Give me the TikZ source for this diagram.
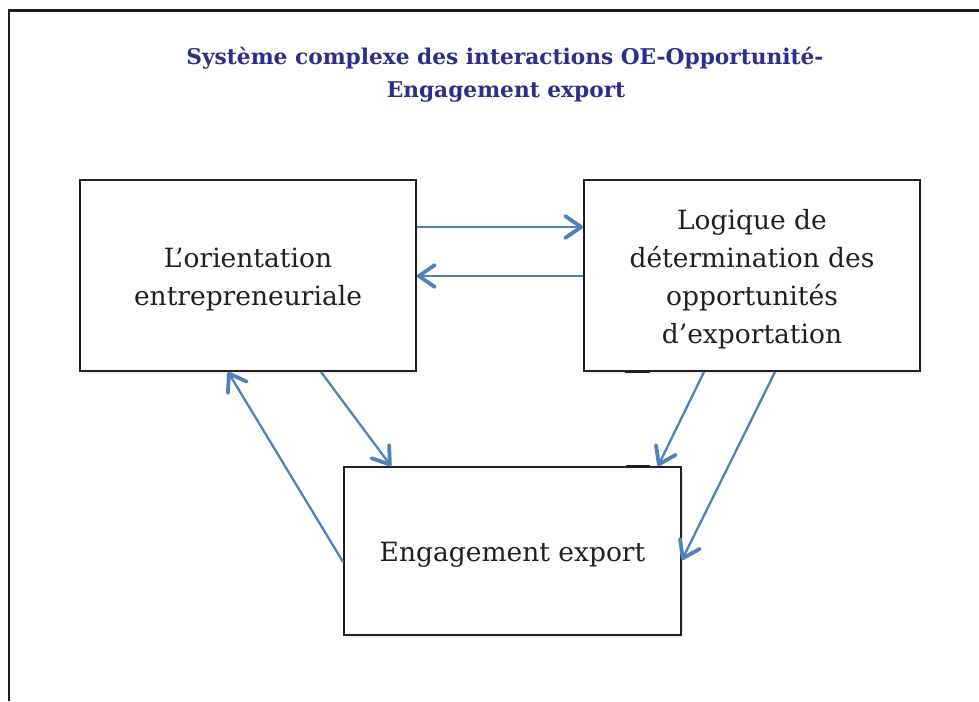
\documentclass[tikz,border=0pt]{standalone}
\usepackage{fontspec}
\setmainfont{DejaVu Serif}
\usetikzlibrary{arrows.meta,shadows}
\definecolor{arrowblue}{RGB}{79,129,189}
\definecolor{titleblue}{RGB}{44,47,138}
\definecolor{ink}{RGB}{35,31,32}
\begin{document}
\begin{tikzpicture}[x=1pt,y=-1pt,
  box/.style={draw=ink, line width=1.9pt, fill=white, inner sep=0pt,
    drop shadow={opacity=0.12, shadow xshift=2pt, shadow yshift=-3pt}},
  boxtext/.style={align=center, text=ink, inner sep=0pt, yshift=-4pt,
    font=\fontsize{26.5}{38}\selectfont},
  arr/.style={draw=arrowblue, line width=2.3pt,
    -{Straight Barb[length=16pt,width=22pt,line width=3.8pt,round]}},
  titletext/.style={text=titleblue, font=\bfseries\fontsize{21.7}{33}\selectfont,
    anchor=base, inner sep=0pt},
  mark seg/.style={draw=ink, line width=2.8pt}]
\useasboundingbox (0,0) rectangle (979,701);
% outer frame
\draw[ink, line width=2.2pt] (9,701) -- (9,10.5) -- (979,10.5);
% title
\node[titletext] (title1) at (505,64) {Système complexe des interactions OE-Opportunité-};
\node[titletext] (title2) at (506,97) {Engagement export};
% boxes
\node[box, minimum width=336pt, minimum height=191pt,
  label={[boxtext]center:{L’orientation\\entrepreneuriale}}] (oe) at (248,275.5) {};
\node[box, minimum width=336pt, minimum height=191pt,
  label={[boxtext]center:{Logique de\\détermination des\\opportunités\\d’exportation}}] (logic) at (752,275.5) {};
\node[box, minimum width=337pt, minimum height=168pt,
  label={[boxtext]center:{Engagement export}}] (eng) at (512.5,551) {};
% small thick marks on borders
\draw[mark seg] ([xshift=-127pt]logic.south) -- ([xshift=-102pt]logic.south);
\draw[mark seg] ([xshift=113.5pt]eng.north) -- ([xshift=137.5pt]eng.north);
% connectors
\draw[arr] ([yshift=48.5pt]oe.east) -- ([yshift=48.5pt]logic.west);
\draw[arr] ([yshift=-0.5pt]logic.west) -- ([yshift=-0.5pt]oe.east);
\draw[arr] ([xshift=73pt]oe.south) -- ([xshift=-121.5pt]eng.north);
\draw[arr] ([yshift=-11pt]eng.west) -- ([xshift=-20pt]oe.south);
\draw[arr] ([xshift=-48pt]logic.south) -- ([xshift=145.5pt]eng.north);
\draw[arr] ([xshift=23pt]logic.south) -- ([yshift=-9pt]eng.east);
\end{tikzpicture}
\end{document}
